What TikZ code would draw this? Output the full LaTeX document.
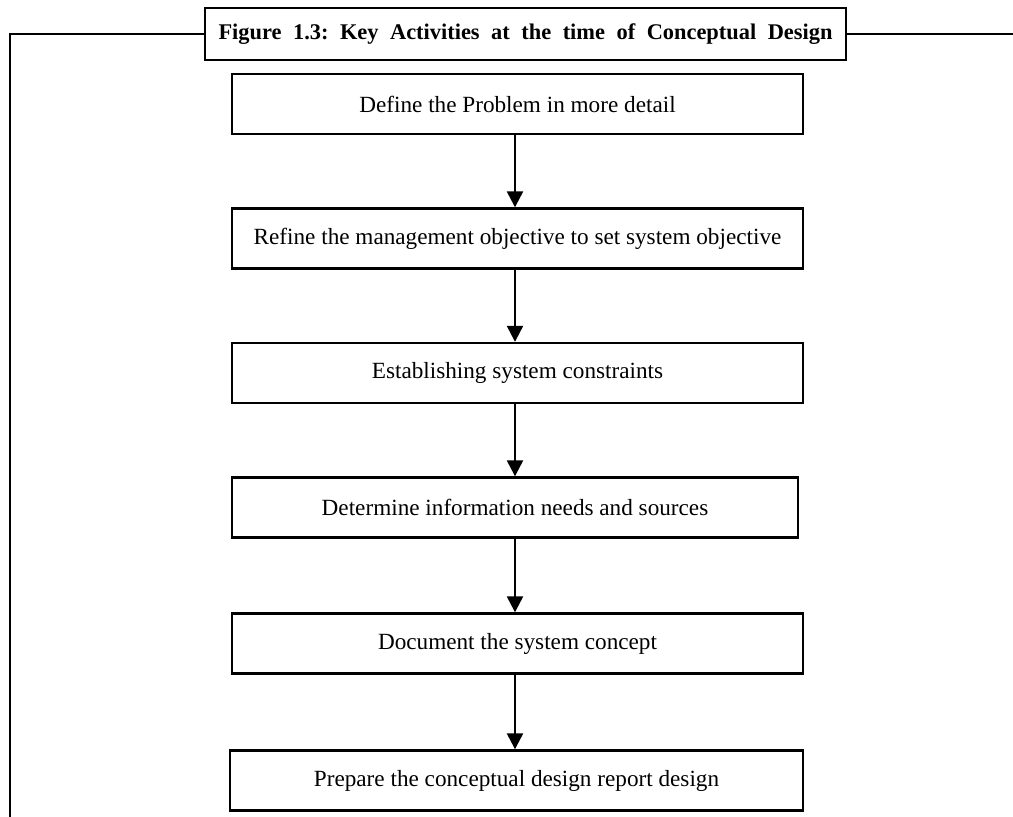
\documentclass[tikz,border=0pt]{standalone}
\usepackage{fontspec}
\usepackage{tikz}
\usetikzlibrary{arrows.meta}
\setmainfont{Liberation Serif}
\frenchspacing

\begin{document}
\begin{tikzpicture}[x=0.5pt, y=-0.5pt,
        stepbox/.style={draw, line width=1.2pt, minimum width=285.5pt, minimum height=30pt, inner sep=0pt, font=\fontsize{11.6}{13}\selectfont},
        arr/.style={-{Triangle[length=8pt, width=8pt]}, line width=1.2pt}]
            \useasboundingbox (0, 0) rectangle (1013, 816);
            \node[draw, line width=1.4pt, minimum width=320.5pt, minimum height=26pt, inner sep=0pt, font=\bfseries\fontsize{11.2}{13}\selectfont] (title) at (525.5, 34) {\makebox[307pt][s]{Figure 1.3: Key Activities at the time of Conceptual Design}};
            \draw[line width=1pt] (title.west) -- (10, 34) coordinate(corner) -- (10, 820);
            \draw[line width=1pt] (title.east) -- (1020, 34);
            \node[stepbox] (define) at (517.5, 104) {Define the Problem in more detail};
            \node[stepbox] (refine) at (517.5, 238.5) {Refine the management objective to set system objective};
            \node[stepbox] (constr) at (517.5, 373) {Establishing system constraints};
            \node[stepbox, minimum width=283pt] (needs) at (515, 507.5) {Determine information needs and sources};
            \node[stepbox] (concept) at (517.5, 643.5) {Document the system concept};
            \node[stepbox, minimum width=286.5pt] (report) at (516.5, 780.5) {Prepare the conceptual design report design};
            \coordinate (ax) at (515, 0);
            \draw[arr] (define.south -| ax) -- (refine.north -| ax);
            \draw[arr] (refine.south -| ax) -- (constr.north -| ax);
            \draw[arr] (constr.south -| ax) -- (needs.north -| ax);
            \draw[arr] (needs.south -| ax) -- (concept.north -| ax);
            \draw[arr] (concept.south -| ax) -- (report.north -| ax);
        \end{tikzpicture}
\end{document}
